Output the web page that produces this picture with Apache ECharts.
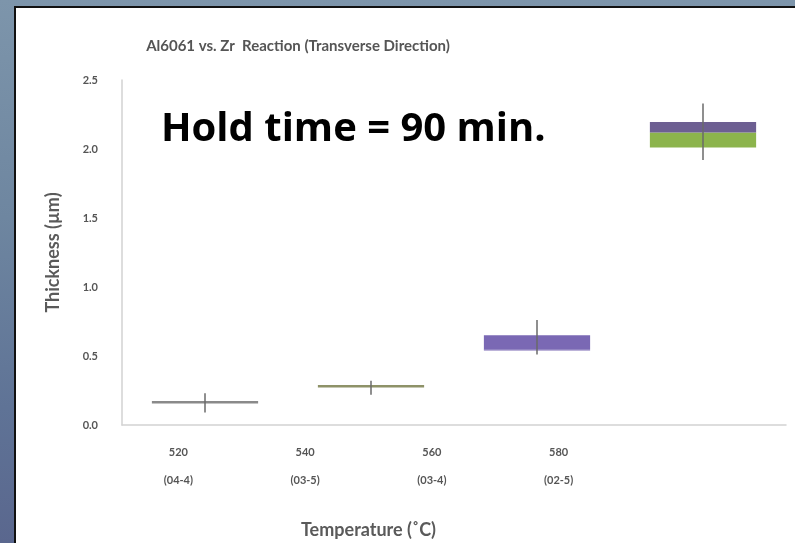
<!DOCTYPE html>
<html>
<head>
<meta charset="utf-8">
<script src="https://cdn.jsdelivr.net/npm/echarts@6/dist/echarts.min.js"></script>
<style>
html,body{margin:0;padding:0;width:795px;height:543px;overflow:hidden;}
body{background:linear-gradient(to bottom,#7d95ab 0%,#6e86a0 40%,#5f7396 75%,#5a678e 100%);position:relative;}
#panel{position:absolute;left:14px;top:6px;right:0;bottom:0;background:#fff;border-left:2px solid #111;border-top:2px solid #111;}
#chart{position:absolute;left:0;top:0;width:795px;height:543px;}
</style>
</head>
<body>
<div id="panel"></div>
<div id="chart"></div>
<script>
// ---- data ----
const temperatures = ['520', '540', '560', '580'];
const sampleIds = ['(04-4)', '(03-5)', '(03-4)', '(02-5)'];
const whiskerLow  = [0.09, 0.22, 0.51, 1.92];
const boxQ1       = [0.165, 0.28, 0.54, 2.01];
const boxMedian   = [0.165, 0.28, 0.545, 2.12];
const boxQ3       = [0.165, 0.28, 0.65, 2.195];
const whiskerHigh = [0.23, 0.32, 0.76, 2.33];

// ---- styles ----
const lowerColors = ['#8db54a', '#8db54a', '#7a68b4', '#8cb44c'];
const upperColors = ['#7a68b4', '#7a68b4', '#7a68b4', '#6d5f92'];
const flatLineColors = ['#8a8a8a', '#8e9268', null, null];

const boxData = temperatures.map((t, i) => [i, whiskerLow[i], boxQ1[i], boxMedian[i], boxQ3[i], whiskerHigh[i]]);
const labelData = temperatures.map((t, i) => t + '\n' + sampleIds[i]);

const chart = echarts.init(document.getElementById('chart'), null, {renderer: 'canvas'});
const option = {
  backgroundColor: 'transparent',
  animation: false,
  title: {
    text: 'Al6061 vs. Zr  Reaction (Transverse Direction)',
    left: 293, top: 34, textAlign: 'center',
    textStyle: {fontFamily: 'Lato', fontSize: 15, fontWeight: 'bold', color: '#555'}
  },
  graphic: [{
    type: 'text', left: 161, top: 110,
    style: {text: 'Hold time = 90 min.', font: 'bold 40px "Open Sans"', fill: '#000'}
  }],
  grid: [
    {left: 122, right: 9, top: 80, bottom: 118, outerBoundsMode: 'none', containLabel: false},
    {left: 115, width: 507, top: 80, bottom: 118, outerBoundsMode: 'none', containLabel: false}
  ],
  xAxis: [
    {type: 'category', gridIndex: 0, data: temperatures,
     axisLine: {lineStyle: {color: '#d2d2d2', width: 1.5}}, axisTick: {show: false}, axisLabel: {show: false}},
    {type: 'category', gridIndex: 1, data: labelData,
     axisLine: {show: false}, axisTick: {show: false},
     axisLabel: {margin: 13, lineHeight: 28, fontFamily: 'Lato', fontSize: 11, fontWeight: 'bold', color: '#555'},
     name: 'Temperature (\u02DaC)', nameLocation: 'middle', nameGap: 96,
     nameTextStyle: {fontFamily: 'Lato', fontSize: 18, fontWeight: 'bold', color: '#5a5a5a'}}
  ],
  yAxis: [
    {type: 'value', gridIndex: 0, min: 0, max: 2.5, interval: 0.5,
     axisLine: {show: true, lineStyle: {color: '#d2d2d2', width: 1.5}}, axisTick: {show: false},
     splitLine: {show: false},
     axisLabel: {margin: 24, fontFamily: 'Lato', fontSize: 11, fontWeight: 'bold', color: '#555', formatter: v => v.toFixed(1)},
     name: 'Thickness (\u00B5m)', nameLocation: 'middle', nameGap: 60, nameRotate: 90,
     nameTextStyle: {fontFamily: 'Lato', fontSize: 18, fontWeight: 'bold', color: '#5a5a5a'}},
    {type: 'value', gridIndex: 1, min: 0, max: 2.5, show: false}
  ],
  series: [{
    type: 'custom', xAxisIndex: 0, yAxisIndex: 0,
    data: boxData,
    renderItem: function (params, api) {
      const i = api.value(0);
      const pLo = api.coord([i, api.value(1)]);
      const pQ1 = api.coord([i, api.value(2)]);
      const pMed = api.coord([i, api.value(3)]);
      const pQ3 = api.coord([i, api.value(4)]);
      const pHi = api.coord([i, api.value(5)]);
      const w = api.size([1, 0])[0] * 0.64;
      const cx = pMed[0];
      const children = [];
      if (pQ1[1] - pMed[1] > 0.5) {
        children.push({type: 'rect', shape: {x: cx - w / 2, y: pMed[1], width: w, height: pQ1[1] - pMed[1]},
          style: {fill: lowerColors[i]}});
      }
      if (pMed[1] - pQ3[1] > 0.5) {
        children.push({type: 'rect', shape: {x: cx - w / 2, y: pQ3[1], width: w, height: pMed[1] - pQ3[1]},
          style: {fill: upperColors[i]}});
      }
      if (flatLineColors[i]) {
        children.push({type: 'line', shape: {x1: cx - w / 2, y1: pMed[1], x2: cx + w / 2, y2: pMed[1]},
          style: {stroke: flatLineColors[i], lineWidth: 2.5}});
      }
      children.push({type: 'line', shape: {x1: cx, y1: pLo[1], x2: cx, y2: pHi[1]},
        style: {stroke: '#6a6a6a', lineWidth: 1.5}});
      return {type: 'group', children: children};
    }
  }]
};
chart.setOption(option);
</script>
</body>
</html>
